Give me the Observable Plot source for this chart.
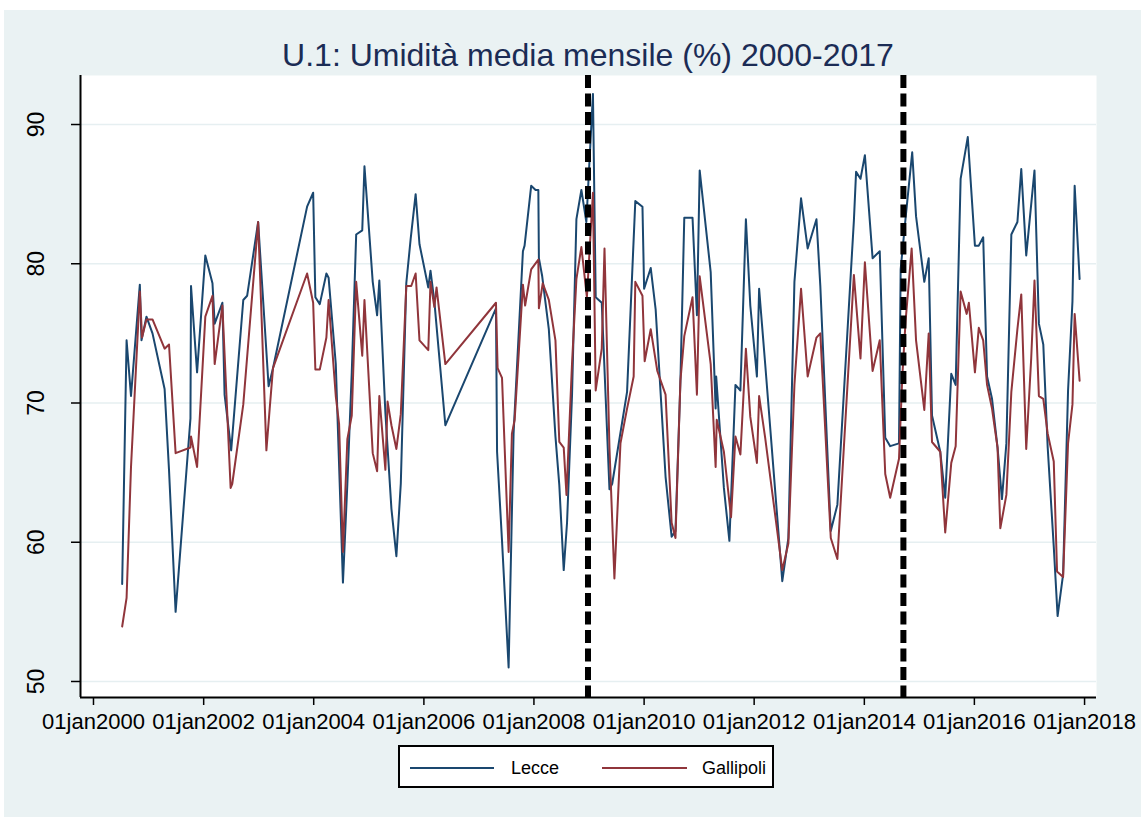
<!DOCTYPE html>
<html><head><meta charset="utf-8">
<script src="https://cdn.jsdelivr.net/npm/d3@7"></script>
<script src="https://cdn.jsdelivr.net/npm/@observablehq/plot@0.6"></script>
<style>
html,body{margin:0;padding:0;background:#fff;}
body{width:1145px;height:817px;position:relative;overflow:hidden;font-family:"Liberation Sans",Arial,sans-serif;}
#bg{position:absolute;left:4px;top:10px;width:1137px;height:807px;background:#eaf2f3;}
#title{position:absolute;left:80px;width:1016px;top:36px;text-align:center;font-size:32px;color:#1b2c55;line-height:38px;white-space:nowrap;}
#chart{position:absolute;left:0;top:0;}
#legend{position:absolute;left:398px;top:745px;width:372px;height:39px;background:#fff;border:2px solid #000;}
</style>
</head><body>
<div id="bg"></div>
<div id="chart"></div>
<div id="title"></div>
<div id="legend"></div>
<script>
const titleText = "U.1: Umidità media mensile (%) 2000-2017";
const seriesNames = ["Lecce", "Gallipoli"];
const seriesColors = ["#1a476f", "#90353b"];
const yTicks = [50, 60, 70, 80, 90];
const xTickYears = [2000, 2002, 2004, 2006, 2008, 2010, 2012, 2014, 2016, 2018];
const breakYears = [2008.98, 2014.71];

// time as decimal year, values in %
const lecceT = [2000.52,2000.60,2000.68,2000.84,2000.87,2000.96,2001.07,2001.29,2001.37,2001.49,2001.76,2001.77,2001.88,2002.03,2002.16,2002.20,2002.34,2002.38,2002.50,2002.72,2002.79,2002.99,2003.18,2003.26,2003.88,2003.99,2004.03,2004.11,2004.23,2004.27,2004.40,2004.53,2004.61,2004.69,2004.77,2004.88,2004.92,2005.07,2005.15,2005.19,2005.30,2005.41,2005.50,2005.58,2005.68,2005.76,2005.85,2005.92,2006.08,2006.12,2006.19,2006.39,2007.31,2007.33,2007.42,2007.54,2007.63,2007.80,2007.83,2007.95,2008.03,2008.08,2008.09,2008.15,2008.27,2008.39,2008.46,2008.54,2008.60,2008.69,2008.77,2008.86,2008.95,2009.07,2009.12,2009.23,2009.37,2009.42,2009.69,2009.84,2009.97,2010.00,2010.12,2010.21,2010.39,2010.50,2010.57,2010.66,2010.73,2010.88,2010.96,2011.01,2011.21,2011.30,2011.31,2011.45,2011.55,2011.66,2011.75,2011.85,2011.93,2012.05,2012.09,2012.20,2012.51,2012.62,2012.73,2012.85,2012.97,2013.13,2013.20,2013.39,2013.51,2013.81,2013.85,2013.93,2014.01,2014.15,2014.28,2014.38,2014.47,2014.63,2014.66,2014.75,2014.87,2014.94,2015.09,2015.17,2015.23,2015.38,2015.47,2015.58,2015.66,2015.75,2015.88,2016.01,2016.08,2016.16,2016.23,2016.32,2016.42,2016.50,2016.58,2016.67,2016.78,2016.85,2016.94,2017.09,2017.17,2017.25,2017.33,2017.44,2017.51,2017.61,2017.70,2017.78,2017.82,2017.91];
const lecceV = [57.0,74.5,70.5,78.5,74.5,76.2,75.0,71.0,65.2,55.0,68.9,78.4,72.2,80.6,78.6,75.7,77.2,70.6,66.6,77.4,77.7,83.0,71.2,72.5,84.1,85.1,77.6,77.1,79.3,79.0,72.8,57.1,64.2,72.2,82.1,82.4,87.0,78.7,76.3,78.8,69.3,62.4,59.0,64.2,78.6,81.8,85.0,81.4,78.3,79.5,77.3,68.4,76.8,66.5,60.1,51.0,67.8,80.9,81.3,85.6,85.3,85.3,80.4,79.1,75.3,67.6,64.1,58.0,61.4,70.5,83.2,85.3,83.0,92.2,77.6,77.2,63.8,64.2,70.8,84.5,84.1,78.2,79.7,76.7,64.7,60.4,60.8,71.6,83.3,83.3,76.3,86.7,79.4,69.6,71.9,63.9,60.1,71.3,70.9,83.2,77.0,71.9,78.2,72.8,57.2,60.3,78.7,84.7,81.1,83.2,78.4,60.8,62.7,83.1,86.6,86.1,87.8,80.4,80.9,67.5,66.9,67.1,79.6,83.3,88.0,83.4,78.7,80.4,69.1,66.5,63.2,72.1,71.3,86.1,89.1,81.3,81.3,81.9,71.9,70.3,66.8,63.1,67.1,82.1,83.0,86.8,80.6,86.7,75.7,74.2,66.8,59.7,54.7,57.7,70.9,77.3,85.6,78.9];

const gallipoliT = [2000.52,2000.60,2000.68,2000.84,2000.88,2000.96,2001.07,2001.29,2001.37,2001.49,2001.76,2001.77,2001.88,2002.03,2002.16,2002.20,2002.34,2002.49,2002.52,2002.72,2002.99,2003.14,2003.20,2003.26,2003.88,2003.99,2004.03,2004.11,2004.23,2004.27,2004.40,2004.46,2004.53,2004.61,2004.69,2004.77,2004.88,2004.92,2005.07,2005.15,2005.19,2005.30,2005.34,2005.41,2005.50,2005.58,2005.68,2005.77,2005.85,2005.92,2006.08,2006.12,2006.19,2006.23,2006.39,2007.31,2007.34,2007.42,2007.54,2007.60,2007.65,2007.80,2007.84,2007.95,2008.08,2008.09,2008.16,2008.27,2008.39,2008.46,2008.54,2008.59,2008.69,2008.77,2008.86,2008.96,2009.07,2009.12,2009.23,2009.28,2009.37,2009.46,2009.57,2009.69,2009.81,2009.84,2009.97,2010.01,2010.12,2010.24,2010.39,2010.50,2010.57,2010.66,2010.73,2010.88,2010.96,2011.01,2011.21,2011.30,2011.32,2011.45,2011.58,2011.66,2011.75,2011.85,2011.93,2012.05,2012.09,2012.20,2012.51,2012.62,2012.73,2012.85,2012.97,2013.13,2013.20,2013.39,2013.51,2013.81,2013.93,2014.01,2014.15,2014.28,2014.38,2014.47,2014.63,2014.69,2014.75,2014.86,2014.94,2015.09,2015.17,2015.23,2015.38,2015.47,2015.58,2015.66,2015.75,2015.86,2015.90,2016.01,2016.08,2016.16,2016.23,2016.32,2016.42,2016.47,2016.58,2016.67,2016.78,2016.85,2016.94,2017.03,2017.09,2017.17,2017.25,2017.33,2017.44,2017.50,2017.61,2017.70,2017.78,2017.82,2017.91];
const gallipoliV = [53.95,56.0,65.4,78.0,74.7,76.0,76.0,73.9,74.2,66.4,66.8,67.6,65.4,76.2,77.7,72.8,77.0,63.9,64.2,69.9,83.0,66.6,69.6,72.5,79.3,77.2,72.4,72.4,74.7,77.4,70.5,68.5,59.3,67.4,69.1,78.7,73.4,77.4,66.4,65.1,70.5,65.2,70.1,68.4,66.7,69.2,78.4,78.4,79.3,74.5,73.8,78.7,76.9,78.3,72.8,77.2,72.5,71.8,59.3,67.8,68.8,78.5,77.0,79.6,80.3,76.8,78.6,77.4,74.5,67.2,66.8,63.4,72.8,78.9,81.2,77.6,85.1,70.9,73.9,81.1,66.8,57.4,67.1,69.6,71.9,78.7,77.7,73.0,75.3,72.3,70.6,61.4,60.3,71.6,74.8,77.6,70.6,79.1,72.8,65.4,68.8,66.5,61.8,67.6,66.3,73.9,69.0,65.7,70.5,67.5,58.0,59.9,71.3,78.2,71.9,74.7,75.0,60.3,58.8,79.2,73.2,80.1,72.3,74.5,64.9,63.2,66.0,71.9,75.9,81.1,74.5,69.5,75.0,67.2,66.5,60.7,65.7,66.9,78.0,76.4,77.2,72.2,75.4,74.5,71.3,69.6,66.8,61.0,63.4,70.8,75.3,77.8,66.7,73.2,78.8,70.5,70.3,67.8,65.8,57.9,57.5,67.1,69.9,76.4,71.6];

function toDate(t) {
  const y = Math.floor(t);
  const s = Date.UTC(y, 0, 1), e = Date.UTC(y + 1, 0, 1);
  return new Date(s + (t - y) * (e - s));
}
const rows = (T, V, name) => T.map((t, i) => ({date: toDate(t), value: V[i], name}));
const lecce = rows(lecceT, lecceV, seriesNames[0]);
const gallipoli = rows(gallipoliT, gallipoliV, seriesNames[1]);
const xDomain = [toDate(1999.764), toDate(2018.217)];
const yDomain = [48.85, 93.52];
const xTicks = xTickYears.map(y => new Date(Date.UTC(y, 0, 1)));
const breaks = breakYears.map(toDate);

const fontFamily = '"Liberation Sans", Arial, sans-serif';
const chart = Plot.plot({
  width: 1145,
  height: 745,
  marginLeft: 80,
  marginRight: 49,
  marginTop: 75,
  marginBottom: 48,
  style: {background: "transparent", fontFamily, color: "#000"},
  x: {type: "utc", domain: xDomain, label: null},
  y: {domain: yDomain, label: null},
  marks: [
    Plot.frame({fill: "#fff", stroke: "none"}),
    Plot.ruleY(yTicks, {stroke: "#e6eff1", strokeWidth: 1.5}),
    Plot.line(lecce, {x: "date", y: "value", stroke: seriesColors[0], strokeWidth: 2}),
    Plot.line(gallipoli, {x: "date", y: "value", stroke: seriesColors[1], strokeWidth: 2}),
    Plot.ruleX(breaks, {stroke: "#000", strokeWidth: 6, strokeDasharray: "13,5.5"}),
    Plot.ruleX([xDomain[0]], {stroke: "#000", strokeWidth: 2}),
    Plot.ruleY([yDomain[0]], {stroke: "#000", strokeWidth: 2}),
    Plot.axisX({ticks: xTicks, tickSize: 8, tickPadding: 8, strokeWidth: 1.5, fontSize: 22, label: null,
      tickFormat: d => "01jan" + d.getUTCFullYear()}),
    Plot.axisY({ticks: yTicks, tickSize: 9, tickPadding: 28, strokeWidth: 1.5, fontSize: 23, tickRotate: -90, label: null})
  ]
});
document.getElementById("chart").appendChild(chart);
document.getElementById("title").textContent = titleText;

// legend
const lg = d3.select("#legend").append("svg").attr("width", 372).attr("height", 39);
const legendX = [[10, 94, 111], [202, 287, 302]];
seriesNames.forEach((name, i) => {
  const [x1, x2, tx] = legendX[i];
  lg.append("line").attr("x1", x1).attr("x2", x2).attr("y1", 21).attr("y2", 21)
    .attr("stroke", seriesColors[i]).attr("stroke-width", 2);
  lg.append("text").attr("x", tx).attr("y", 27).attr("font-size", 18)
    .attr("font-family", fontFamily).text(name);
});
</script>
</body></html>
